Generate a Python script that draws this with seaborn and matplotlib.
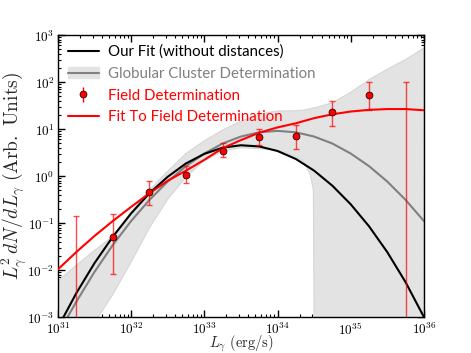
import matplotlib
matplotlib.use("Agg")
import matplotlib.pyplot as plt
import seaborn as sns
import numpy as np
from matplotlib.patches import Patch
from matplotlib.lines import Line2D
from matplotlib.ticker import FuncFormatter, LogLocator, NullFormatter

# --- curves (L in erg/s) ---
L_grid = [1e31, 1.78e31, 3.16e31, 5.62e31, 1e32, 1.78e32, 3.16e32, 5.62e32,
          1e33, 1.78e33, 3.16e33, 5.62e33, 1e34, 1.78e34, 3.16e34, 5.62e34,
          1e35, 1.78e35, 3.16e35, 5.62e35, 1e36]
our_fit = [6.0e-4, 3.2e-3, 1.4e-2, 5.1e-2, 0.16, 0.43, 0.96, 1.85,
           2.95, 4.0, 4.5, 4.25, 3.4, 2.3, 1.3, 0.62,
           0.25, 0.085, 0.024, 5.5e-3, 1.0e-3]
gc_fit = [4.4e-4, 2.1e-3, 9.1e-3, 0.034, 0.11, 0.31, 0.76, 1.62,
          3.0, 4.9, 6.9, 8.5, 9.1, 8.5, 6.9, 4.9,
          3.0, 1.62, 0.76, 0.31, 0.11]
field_fit = [0.0103, 0.024, 0.053, 0.11, 0.22, 0.43, 0.79, 1.3,
             2.2, 3.9, 5.8, 8.3, 10.8, 13.2, 17.0, 20.5,
             23.5, 25.5, 26.5, 26.5, 25.0]

# globular cluster band (upper / lower edge)
L_band = [1e31, 1.78e31, 3.16e31, 5.62e31, 1e32, 1.78e32, 3.16e32, 5.62e32,
          1e33, 1.78e33, 3.16e33, 5.62e33, 1e34, 1.78e34, 2.29e34, 2.82e34,
          3.09e34, 3.24e34, 5.62e34, 1e35, 1.78e35, 3.16e35, 5.62e35, 1e36]
band_hi = [5.8e-3, 0.0126, 0.026, 0.052, 0.17, 0.50, 1.26, 3.0,
           5.6, 9.5, 14.5, 21.0, 24.0, 24.5, 25.1, 27.0,
           28.2, 28.2, 36.0, 60.0, 112.0, 186.0, 300.0, 525.0]
band_lo = [5e-5, 2e-4, 7.6e-4, 3.0e-3, 0.0148, 0.079, 0.32, 0.95,
           2.14, 3.4, 4.0, 3.8, 3.55, 2.6, 2.0, 1.05,
           0.5, 1e-6, 1e-6, 1e-6, 1e-6, 1e-6, 1e-6, 1e-6]

# field determination points with error bar ranges
L_pts = [1.78e31, 5.62e31, 1.78e32, 5.62e32, 1.78e33, 5.62e33,
         1.78e34, 5.62e34, 1.78e35, 5.62e35]
y_pts = [1e-5, 0.050, 0.46, 1.05, 3.45, 6.9, 7.1, 22.5, 53.0, 1e-5]
y_top = [0.141, 0.156, 0.79, 1.63, 4.97, 9.9, 12.2, 39.0, 102.0, 102.0]
y_bot = [1e-6, 0.0081, 0.24, 0.70, 2.58, 4.57, 3.7, 11.5, 25.0, 1e-6]

sns.set_style("ticks")
plt.rcParams["mathtext.fontset"] = "cm"
plt.rcParams["font.family"] = ["Lato", "DejaVu Sans"]

fig, ax = plt.subplots(figsize=(4.71, 3.53), dpi=100)
fig.subplots_adjust(left=0.123, right=0.900, bottom=0.102, top=0.901)

ax.fill_between(L_band, band_lo, band_hi, color="#e3e3e3", lw=0.8,
                edgecolor="#d6d6d6", zorder=1)
sns.lineplot(x=L_grid, y=gc_fit, ax=ax, color="gray", lw=1.5, zorder=2)
sns.lineplot(x=L_grid, y=our_fit, ax=ax, color="black", lw=1.5, zorder=3)
sns.lineplot(x=L_grid, y=field_fit, ax=ax, color="red", lw=1.5, zorder=4)

y_arr = np.array(y_pts)
yerr = [y_arr - np.array(y_bot), np.array(y_top) - y_arr]
ax.errorbar(L_pts, y_pts, yerr=yerr, fmt="none", ecolor="red", alpha=0.7,
            elinewidth=1, capsize=2.5, zorder=5)
ax.plot(L_pts, y_pts, "o", color="red", mec="black", mew=0.5, ms=5, zorder=6)

ax.set_xscale("log")
ax.set_yscale("log")
ax.set_xlim(1e31, 1e36)
ax.set_ylim(1e-3, 1e3)

fmt = FuncFormatter(lambda v, p: r"$10^{%d}$" % round(np.log10(v)))
ax.xaxis.set_major_formatter(fmt)
ax.yaxis.set_major_formatter(fmt)
ax.xaxis.set_minor_locator(LogLocator(subs=np.arange(2, 10), numticks=20))
ax.yaxis.set_minor_locator(LogLocator(subs=np.arange(2, 10), numticks=20))
ax.xaxis.set_minor_formatter(NullFormatter())
ax.yaxis.set_minor_formatter(NullFormatter())
ax.tick_params(which="both", direction="in", top=True, right=True,
               labelsize=9.5, colors="black")
ax.tick_params(which="major", length=5, width=1, pad=2.5)
ax.tick_params(which="minor", length=2.5, width=0.8)
for s in ax.spines.values():
    s.set_linewidth(1)
    s.set_color("black")

ax.set_xlabel(r"$L_\gamma\ \mathrm{(erg/s)}$", fontsize=10.5)
ax.set_ylabel(r"$L_\gamma^2\, dN/dL_\gamma\ \mathrm{(Arb.\ Units)}$",
              fontsize=14)
ax.xaxis.set_label_coords(0.5, -0.06)
ax.yaxis.set_label_coords(-0.083, 0.5)

h_black = Line2D([], [], color="black", lw=1.5)
h_gc = (Patch(facecolor="#e3e3e3", edgecolor="#e3e3e3"),
        Line2D([], [], color="gray", lw=1.5))
h_field = ax.errorbar([], [], yerr=[], fmt="o", color="red", mec="black",
                      mew=0.5, ms=5, ecolor="red", capsize=2.5, elinewidth=1)
h_red = Line2D([], [], color="red", lw=1.5)
leg = ax.legend([h_black, h_gc, h_field, h_red],
                ["Our Fit (without distances)", "Globular Cluster Determination",
                 "Field Determination", "Fit To Field Determination"],
                loc="upper left", frameon=False, fontsize=10.8,
                handlelength=2.1, handletextpad=0.6, borderaxespad=0.25,
                labelspacing=0.52)
for t, c in zip(leg.get_texts(), ["black", "gray", "red", "red"]):
    t.set_color(c)

fig.savefig("out.png", dpi=100)
